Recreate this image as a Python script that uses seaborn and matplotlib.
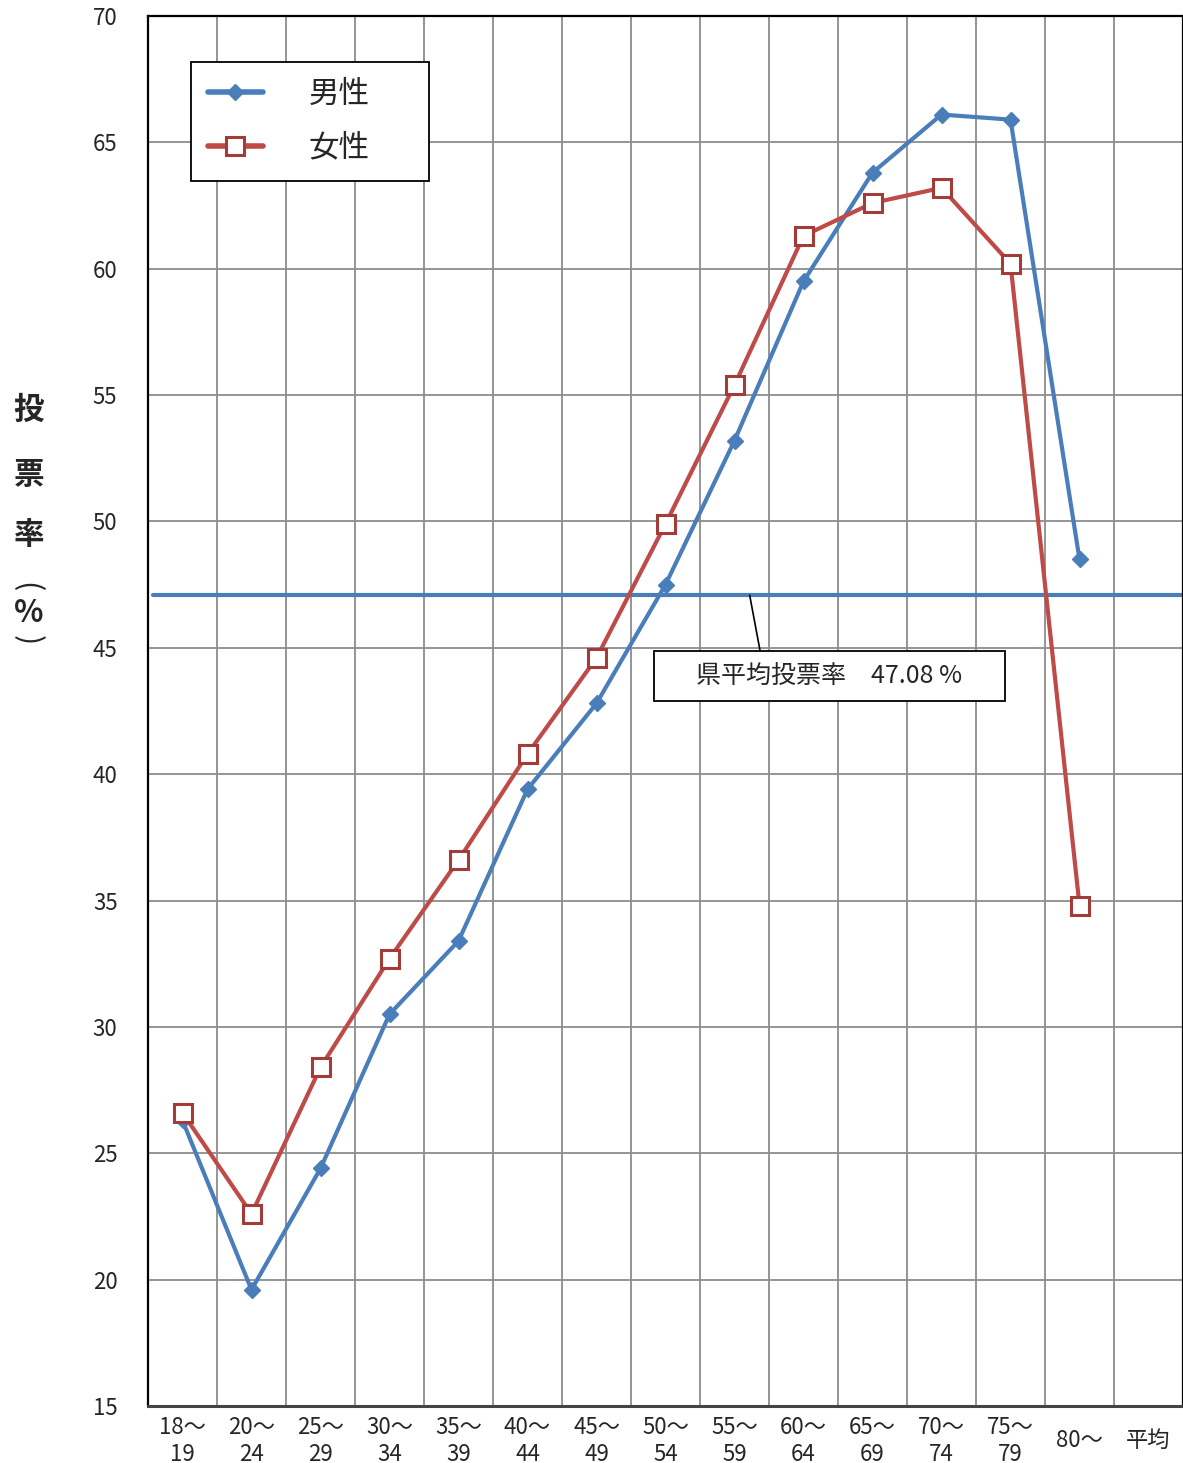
import matplotlib
matplotlib.use("Agg")
import numpy as np
import pandas as pd
import matplotlib.pyplot as plt
import seaborn as sns

# age groups (last one "平均" has no data)
age_groups = ["18～\n19", "20～\n24", "25～\n29", "30～\n34", "35～\n39", "40～\n44",
              "45～\n49", "50～\n54", "55～\n59", "60～\n64", "65～\n69", "70～\n74",
              "75～\n79", "80～", "平均"]
male = [26.3, 19.6, 24.4, 30.5, 33.4, 39.4, 42.8, 47.5, 53.2, 59.5, 63.8, 66.1, 65.9, 48.5]
female = [26.6, 22.6, 28.4, 32.7, 36.6, 40.8, 44.6, 49.9, 55.4, 61.3, 62.6, 63.2, 60.2, 34.8]
pref_avg = 47.08

male_color = "#4a7ebb"
female_color = "#be4b48"
grid_color = "#8c8c8c"

sns.set_style("white")
plt.rcParams['font.family'] = ['Noto Sans CJK JP', 'DejaVu Sans']

df_m = pd.DataFrame({'pos': np.arange(len(male)), 'rate': male})
df_f = pd.DataFrame({'pos': np.arange(len(female)), 'rate': female})

fig = plt.figure(figsize=(11.83, 14.63), dpi=100)
ax = fig.add_axes([148 / 1183, 57 / 1463, 1035 / 1183, 1390 / 1463])

# prefecture average line
ax.axhline(pref_avg, xmin=0.005, xmax=1, color=male_color, lw=3, zorder=2)

sns.lineplot(data=df_m, x='pos', y='rate', ax=ax, color=male_color, lw=3,
             marker='D', markersize=8, markeredgecolor=male_color,
             markeredgewidth=1, label='男性', zorder=4)
sns.lineplot(data=df_f, x='pos', y='rate', ax=ax, color=female_color, lw=3,
             marker='s', markersize=13, markerfacecolor='white',
             markeredgecolor='#a33b38', markeredgewidth=2.2, label='女性', zorder=5)

ax.set_xlim(-0.5, len(age_groups) - 0.5)
ax.set_ylim(15, 70)
ax.set_yticks(np.arange(15, 71, 5))
ax.set_xticks(np.arange(len(age_groups)), age_groups)
ax.set_xticks(np.arange(len(age_groups) + 1) - 0.5, minor=True)
ax.set_xlabel("")
ax.set_ylabel("")

ax.tick_params(axis='y', length=0, pad=22, labelsize=16)
ax.tick_params(axis='x', which='major', length=0, pad=25, labelsize=16)
ax.tick_params(axis='x', which='minor', length=44, width=1.2, color=grid_color,
               direction='out')
for lab in ax.get_xticklabels():
    lab.set_va('center')
    lab.set_linespacing(1.2)

ax.grid(True, which='minor', axis='x', color=grid_color, lw=1.3)
ax.grid(True, which='major', axis='y', color=grid_color, lw=1.3)
ax.set_axisbelow(True)

for side in ['top', 'right', 'left']:
    ax.spines[side].set_color('black')
    ax.spines[side].set_linewidth(1.6)
ax.spines['bottom'].set_color('#444444')
ax.spines['bottom'].set_linewidth(2.2)

# legend
leg = ax.legend(loc='upper left', bbox_to_anchor=(0.0415, 0.8788, 0.2300, 0.0881),
                mode='expand', borderaxespad=0, fontsize=22, handlelength=1.8,
                handletextpad=1.5, labelspacing=0.75, borderpad=0.55,
                fancybox=False, framealpha=1, edgecolor='black')
leg.get_frame().set_linewidth(1.3)
for h in leg.get_lines():
    h.set_linewidth(4)

# annotation box for prefecture average
ax.add_patch(plt.Rectangle((0.4889, 0.5072), 0.3391, 0.036, transform=ax.transAxes,
                           facecolor='white', edgecolor='black', lw=1.3, zorder=6))
ax.text(0.6585, 0.5252, "県平均投票率　47.08 %", transform=ax.transAxes,
        ha='center', va='center', fontsize=18, zorder=7)
ax.annotate("", xy=(8.22, pref_avg), xycoords='data',
            xytext=(0.5913, 0.5436), textcoords='axes fraction',
            arrowprops=dict(arrowstyle='-', color='black', lw=1.2,
                            shrinkA=0, shrinkB=0), zorder=6)

# vertical y label
for ch, ypix in [("投", 410), ("票", 475), ("率", 535)]:
    fig.text(29 / 1183, 1 - ypix / 1463, ch, ha='center', va='center',
             fontsize=22, fontweight='bold')
fig.text(26 / 1183, 1 - 587 / 1463, "(", ha='center', va='center',
         fontsize=22, rotation=-90)
fig.text(29 / 1183, 1 - 613 / 1463, "%", ha='center', va='center',
         fontsize=22, fontweight='bold')
fig.text(27 / 1183, 1 - 640 / 1463, ")", ha='center', va='center',
         fontsize=22, rotation=-90)

fig.savefig("out.png", dpi=100)
